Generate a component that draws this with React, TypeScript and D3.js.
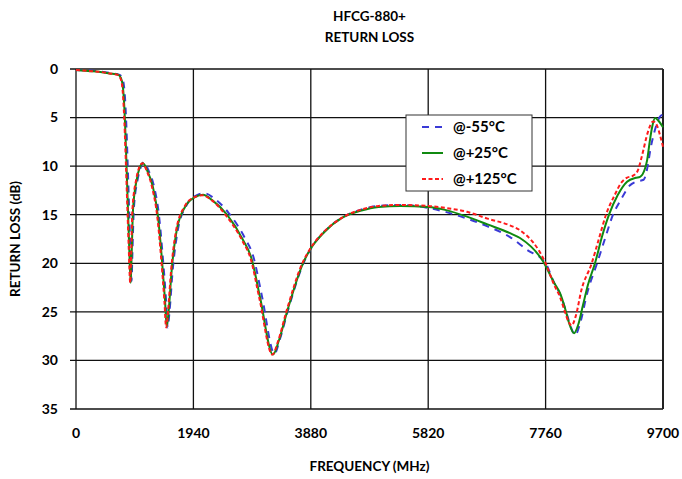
import React from "react";
import * as d3 from "d3";

const TITLE = ["HFCG-880+", "RETURN LOSS"];
const X_LABEL = "FREQUENCY (MHz)";
const Y_LABEL = "RETURN LOSS (dB)";
const X_TICKS = [0, 1940, 3880, 5820, 7760, 9700];
const Y_TICKS = [0, 5, 10, 15, 20, 25, 30, 35];

// @-55°C
const FREQ_M55 = [0,200,400,600,720,760,790,810,830,855,878,898,918,932,955,1018,1065,1122,1195,1290,1372,1432,1487,1515,1545,1598,1682,1820,1990,2125,2280,2520,2790,2930,3070,3280,3370,3505,3765,3880,4110,4400,4700,5000,5354,5820,6100,6461,6800,7172,7450,7760,7900,8000,8100,8180,8250,8320,8450,8610,8740,8874,9000,9150,9250,9380,9430,9500,9580,9650,9700];
const RL_M55 = [0.1,0.15,0.25,0.45,0.6,0.9,1.6,3,5.5,10,14.5,18.5,21.8,19,14.5,11.4,10.2,9.6,10.4,12.1,15.1,19.2,23.7,26.6,25,20.7,16.6,14.1,13.0,12.8,13.3,14.8,17.4,19.3,23.3,29.3,27.8,24.8,19.9,18.5,16.7,15.3,14.5,14.1,14.0,14.3,14.7,15.4,16.2,17.3,18.6,20,22,23.2,25,26.6,27.4,26.4,23,20,17.5,15,13.5,12,11.6,11.4,10.5,8,6,4.9,4.7];

// @+25°C
const FREQ_25 = [0,200,400,600,700,740,770,790,810,835,859,880,904,920,942,1003,1050,1107,1180,1273,1355,1416,1471,1499,1530,1581,1664,1801,1966,2099,2250,2495,2760,2900,3041,3255,3350,3487,3751,3867,4100,4400,4700,5000,5354,5820,6100,6461,6800,7172,7337,7717,7900,8000,8080,8150,8230,8300,8378,8460,8576,8690,8808,8950,9106,9250,9321,9400,9437,9480,9520,9569,9620,9700];
const RL_25 = [0.1,0.2,0.3,0.5,0.6,0.9,1.6,3,5.5,10,14.5,18.5,22,19,14.5,11.4,10.2,9.7,10.5,12.2,15.2,19.3,23.8,26.5,25,20.7,16.6,14.2,13.2,12.95,13.5,15,17.6,19.5,23.5,29.4,28,25,20,18.6,16.8,15.3,14.6,14.2,14.1,14.2,14.5,15.2,16,16.9,17.4,19.8,22,23.1,24.6,26.2,27.2,26.3,24.3,22.2,20,17.3,15,13,11.6,11.2,11.1,10.3,9.4,7.5,6,5.05,5.3,6];

// @+125°C
const FREQ_125 = [0,200,400,600,690,730,760,780,800,826,850,872,896,912,932,994,1040,1098,1170,1262,1345,1406,1461,1490,1520,1572,1655,1790,1955,2090,2240,2480,2750,2890,3030,3245,3340,3475,3740,3860,4090,4400,4700,5000,5354,5820,6100,6461,6800,7172,7337,7760,7900,8000,8080,8130,8190,8260,8350,8522,8640,8758,8900,9000,9100,9200,9280,9350,9450,9535,9600,9650,9700];
const RL_125 = [0.1,0.2,0.3,0.5,0.6,0.9,1.6,3,5.5,10,14.5,18.5,22,19,14.5,11.4,10.2,9.7,10.5,12.3,15.3,19.4,23.9,26.6,25,20.7,16.6,14.2,13.2,13.0,13.5,15.1,17.7,19.6,23.6,29.4,28,25,20,18.6,16.8,15.3,14.5,14.1,14.0,14.1,14.3,14.7,15.4,16.1,16.6,20,22.2,23.5,25,25.9,26.4,25.4,22.8,20,17.5,15,13,11.8,11.2,11.0,10.5,9,6.5,5.4,5.8,6.8,8.0];

const SERIES = [
  { name: "@-55°C", freq: FREQ_M55, rl: RL_M55, color: "#3a3ad6", dash: "7,6", width: 2 },
  { name: "@+25°C", freq: FREQ_25, rl: RL_25, color: "#108a10", dash: "", width: 2 },
  { name: "@+125°C", freq: FREQ_125, rl: RL_125, color: "#ff1a1a", dash: "4,2.5", width: 2 },
];

const W = 682, H = 479;
const M = { left: 76, right: 663, top: 69, bottom: 409 };
const FONT = "Lato, 'Open Sans', sans-serif";

export default function App() {
  const x = d3.scaleLinear().domain([0, 9700]).range([M.left, M.right]);
  const y = d3.scaleLinear().domain([0, 35]).range([M.top, M.bottom]);
  const line = d3
    .line<[number, number]>()
    .x((d) => x(d[0]))
    .y((d) => y(d[1]))
    .curve(d3.curveMonotoneX);

  const cx = (M.left + M.right) / 2;
  const cy = (M.top + M.bottom) / 2;

  return (
    <svg width={W} height={H} style={{ position: "absolute", left: 0, top: 0, background: "#fff" }} fontFamily={FONT}>
      <text x={cx} y={21} textAnchor="middle" fontWeight="bold" fontSize={13.5}>{TITLE[0]}</text>
      <text x={cx} y={42} textAnchor="middle" fontWeight="bold" fontSize={13.5}>{TITLE[1]}</text>

      {Y_TICKS.map((t) => (
        <g key={"y" + t}>
          <line x1={M.left - 6} x2={M.right} y1={y(t)} y2={y(t)} stroke="#111" strokeWidth={1.3} />
          <text x={58} y={y(t)} dy="0.35em" textAnchor="end" fontWeight="bold" fontSize={14}>{t}</text>
        </g>
      ))}
      {X_TICKS.map((t) => (
        <g key={"x" + t}>
          <line x1={x(t)} x2={x(t)} y1={M.top} y2={M.bottom} stroke="#111" strokeWidth={1.3} />
          <text x={x(t)} y={438} textAnchor="middle" fontWeight="bold" fontSize={14}>{t}</text>
        </g>
      ))}
      <line x1={M.right} x2={M.right} y1={M.top} y2={M.bottom} stroke="#222" strokeWidth={2} />

      <text x={cx} y={471} textAnchor="middle" fontWeight="bold" fontSize={13.5}>{X_LABEL}</text>
      <text transform={`translate(20,${cy}) rotate(-90)`} textAnchor="middle" fontWeight="bold" fontSize={13.5}>{Y_LABEL}</text>

      {SERIES.map((s) => (
        <path
          key={s.name}
          d={line(s.freq.map((f, i) => [f, s.rl[i]] as [number, number])) || ""}
          fill="none"
          stroke={s.color}
          strokeWidth={s.width}
          strokeDasharray={s.dash || undefined}
        />
      ))}

      <g>
        <rect x={406} y={115} width={126} height={76} fill="#fff" stroke="#333" strokeWidth={1} />
        {SERIES.map((s, i) => {
          const ly = 127 + i * 26;
          return (
            <g key={"lg" + s.name}>
              <line x1={422} x2={443} y1={ly} y2={ly} stroke={s.color} strokeWidth={2} strokeDasharray={s.dash || undefined} />
              <text x={453} y={ly} dy="0.35em" fontWeight="bold" fontSize={15}>{s.name}</text>
            </g>
          );
        })}
      </g>
    </svg>
  );
}
